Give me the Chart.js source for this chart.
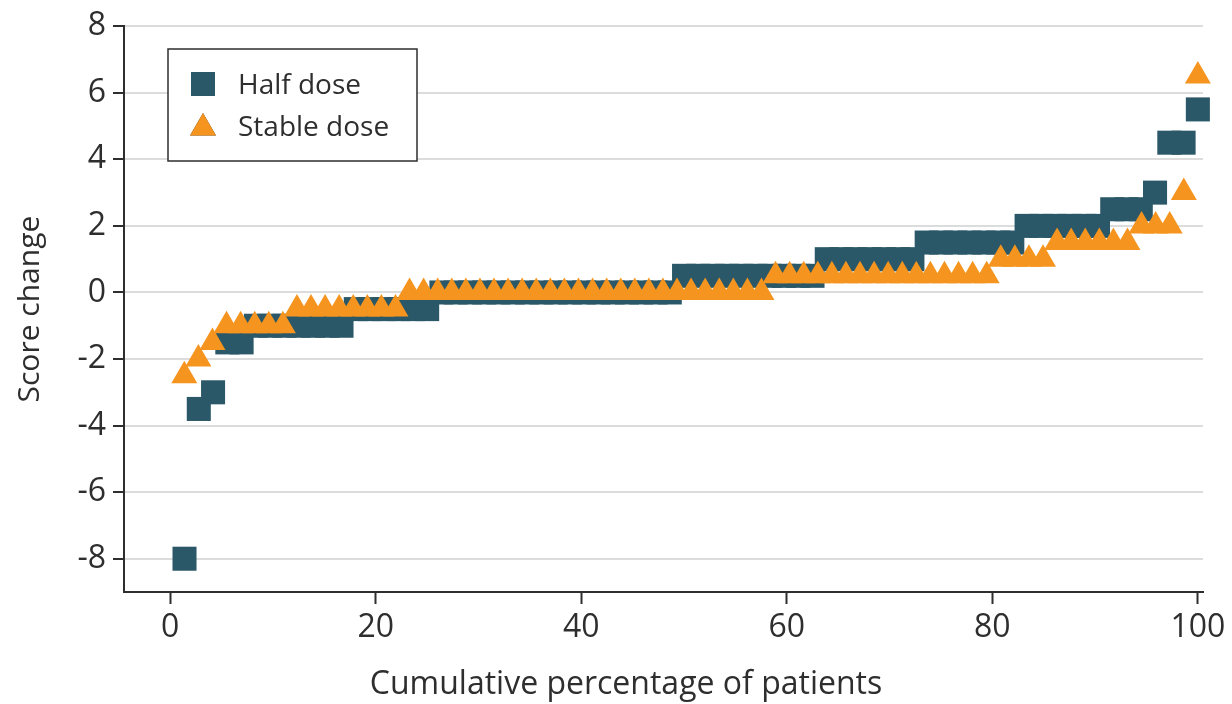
<!DOCTYPE html>
<html>
<head>
<meta charset="utf-8">
<script src="https://cdn.jsdelivr.net/npm/chart.js@4.4.1/dist/chart.umd.min.js"></script>
<style>
    html, body { margin: 0; padding: 0; background: #ffffff; }
    #wrap { width: 1232px; height: 704px; position: relative; }
</style>
</head>
<body>
<div id="wrap"><canvas id="scoreChart"></canvas></div>
<script>
const halfLevels = [-8, -3.5, -3, -1.5, -1, -0.5, 0, 0.5, 1, 1.5, 2, 2.5, 3, 4.5, 5.5];
const halfCounts = [1, 1, 1, 2, 7, 6, 17, 10, 7, 7, 6, 3, 1, 2, 1];
const stableLevels = [-2.5, -2, -1.5, -1, -0.5, 0, 0.5, 1, 1.5, 2, 3, 6.5];
const stableCounts = [1, 1, 1, 5, 8, 26, 16, 4, 6, 3, 1, 1];

const xTicks = [0, 20, 40, 60, 80, 100];
const yTicks = [-8, -6, -4, -2, 0, 2, 4, 6, 8];

const TEAL = '#2b5868';
const ORANGE = '#f5951f';
const TEXT = '#2e2e2e';
const FONT = '"Open Sans", Lato, sans-serif';

// Sorted patients -> cumulative percentage on x
function cumulativePoints(levels, counts) {
    const total = counts.reduce((a, b) => a + b, 0);
    const pts = [];
    let rank = 0;
    levels.forEach((lvl, k) => {
        for (let j = 0; j < counts[k]; j++) {
            rank++;
            pts.push({ x: rank / total * 100, y: lvl });
        }
    });
    return pts;
}

// Boxed legend inside the plot, top left
const legendBox = {
    id: 'legendBox',
    afterDatasetsDraw(chart) {
        const ctx = chart.ctx;
        ctx.save();
        ctx.fillStyle = '#ffffff';
        ctx.fillRect(168, 49, 249, 112);
        ctx.strokeStyle = TEXT;
        ctx.lineWidth = 1.5;
        ctx.strokeRect(168, 49, 249, 112);

        const rows = [{ y: 84, base: 94 }, { y: 128, base: 136 }];
        chart.data.datasets.forEach((ds, i) => {
            Chart.helpers.drawPoint(ctx, {
                pointStyle: ds.pointStyle,
                radius: ds.pointRadius,
                borderWidth: 0
            }, 203, rows[i].y);
            ctx.fillStyle = ds.backgroundColor;
            ctx.fill();
            ctx.fillStyle = TEXT;
            ctx.font = '28px ' + FONT;
            ctx.textAlign = 'left';
            ctx.textBaseline = 'alphabetic';
            ctx.fillText(ds.label, 238, rows[i].base);
        });
        ctx.restore();
    }
};

// x axis title, centred where the original has it
const xTitle = {
    id: 'xTitle',
    afterDraw(chart) {
        const ctx = chart.ctx;
        ctx.save();
        ctx.fillStyle = TEXT;
        ctx.font = '32px ' + FONT;
        ctx.textAlign = 'center';
        ctx.textBaseline = 'alphabetic';
        ctx.fillText('Cumulative percentage of patients', 626, 694);
        ctx.restore();
    }
};

const ctx = document.getElementById('scoreChart');

new Chart(ctx, {
    type: 'scatter',
    data: {
        datasets: [{
            label: 'Half dose',
            data: cumulativePoints(halfLevels, halfCounts),
            pointStyle: 'rect',
            pointRadius: 17,
            backgroundColor: TEAL,
            borderColor: TEAL,
            borderWidth: 0,
            clip: false,
            order: 2
        }, {
            label: 'Stable dose',
            data: cumulativePoints(stableLevels, stableCounts),
            pointStyle: 'triangle',
            pointRadius: 15,
            backgroundColor: ORANGE,
            borderColor: ORANGE,
            borderWidth: 0,
            clip: false,
            order: 1
        }]
    },
    options: {
        responsive: true,
        maintainAspectRatio: false,
        animation: false,
        layout: {
            padding: { top: 22, right: 29, left: 0, bottom: 0 }
        },
        plugins: {
            legend: { display: false },
            tooltip: { enabled: false }
        },
        scales: {
            x: {
                type: 'linear',
                min: -4.5,
                max: 100.5,
                afterBuildTicks: s => { s.ticks = xTicks.map(v => ({ value: v })); },
                afterFit: s => { s.height = 112; },
                grid: {
                    drawOnChartArea: false,
                    tickLength: 12,
                    tickColor: TEXT,
                    tickWidth: 2
                },
                border: { color: TEXT, width: 2 },
                ticks: {
                    color: TEXT,
                    padding: 5,
                    maxRotation: 0,
                    font: { family: FONT, size: 32 }
                }
            },
            y: {
                min: -9,
                max: 8,
                afterBuildTicks: s => { s.ticks = yTicks.map(v => ({ value: v })); },
                afterFit: s => { s.width = 124; },
                grid: {
                    color: '#dcdcdc',
                    lineWidth: 2,
                    tickLength: 11,
                    tickColor: TEXT,
                    tickWidth: 2
                },
                border: { color: TEXT, width: 2 },
                ticks: {
                    color: TEXT,
                    padding: 7,
                    font: { family: FONT, size: 32 }
                },
                title: {
                    display: true,
                    text: 'Score change',
                    color: TEXT,
                    font: { family: FONT, size: 30 },
                    padding: { top: 12, bottom: 0 }
                }
            }
        }
    },
    plugins: [legendBox, xTitle]
});
</script>
</body>
</html>
